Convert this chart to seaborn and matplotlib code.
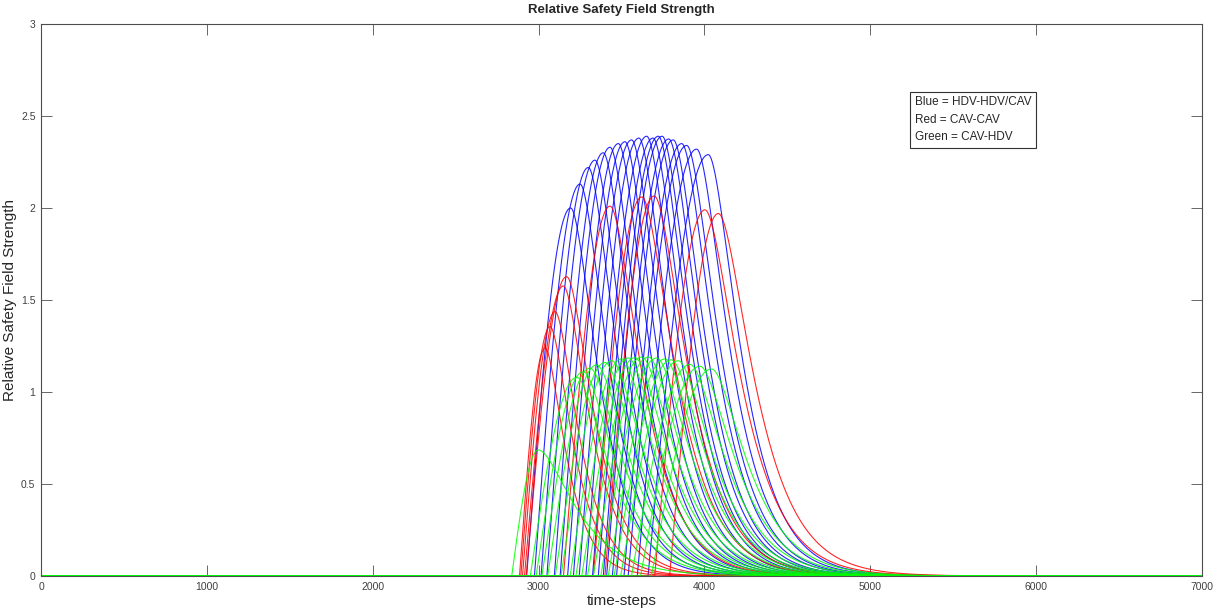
import numpy as np
import pandas as pd
import matplotlib
matplotlib.use("Agg")
import matplotlib.pyplot as plt
import seaborn as sns

# ------------------------------
# Curve parameters (time-steps / strength)
# ------------------------------
blue_peak = [3193, 3250, 3300, 3340, 3390, 3431, 3481, 3521, 3561, 3605,
             3652, 3690, 3722, 3745, 3785, 3812, 3863, 3893, 3953, 4023]
blue_height = [2.00, 2.13, 2.22, 2.26, 2.30, 2.33, 2.35, 2.36, 2.37, 2.38,
               2.39, 2.38, 2.39, 2.39, 2.375, 2.37, 2.35, 2.34, 2.32, 2.29]
blue_onset = [2928, 2975, 3015, 3050, 3095, 3130, 3175, 3210, 3245, 3285,
              3325, 3360, 3390, 3410, 3445, 3470, 3515, 3540, 3595, 3660]
blue_fall = [150, 152, 154, 156, 158, 160, 161, 162, 163, 164,
             165, 166, 167, 168, 169, 170, 171, 172, 172, 170]

red_peak = [3039, 3069, 3099, 3149, 3169, 3431, 3622, 3697, 4003, 4084]
red_height = [1.24, 1.355, 1.437, 1.576, 1.627, 2.01, 2.06, 2.065, 1.99, 1.97]
red_onset = [2885, 2893, 2903, 2915, 2925, 3150, 3330, 3400, 3700, 3790]
red_fall = [110, 120, 125, 140, 145, 170, 180, 180, 188, 190]

green_peak = [2998, 3230, 3270, 3310, 3350, 3400, 3441, 3501, 3541, 3581,
              3622, 3662, 3712, 3762, 3800, 3842, 3913, 3973, 4043]
green_height = [0.685, 1.08, 1.11, 1.13, 1.147, 1.16, 1.17, 1.18, 1.185, 1.187,
                1.19, 1.19, 1.185, 1.18, 1.175, 1.17, 1.15, 1.14, 1.125]
green_onset = [2838, 2950, 2985, 3020, 3055, 3100, 3135, 3190, 3225, 3260,
               3295, 3330, 3375, 3420, 3455, 3495, 3560, 3615, 3680]
green_fall = [200, 175, 175, 178, 180, 180, 182, 183, 184, 185,
              186, 187, 188, 188, 189, 190, 190, 191, 192]

x_ticks = [0, 1000, 2000, 3000, 4000, 5000, 6000, 7000]
y_ticks = [0, 0.5, 1, 1.5, 2, 2.5, 3]
y_tick_labels = ["0", "0.5", "1", "1.5", "2", "2.5", "3"]

legend_text = "Blue = HDV-HDV/CAV\nRed = CAV-CAV\nGreen = CAV-HDV"


# ------------------------------
# Build the curves
# ------------------------------
t = np.arange(0, 7001, 2)


def field_curve(t0, tp, h, s):
    y = np.zeros_like(t, dtype=float)
    up = (t >= t0) & (t <= tp)
    y[up] = h * np.sin(np.pi / 2 * (t[up] - t0) / (tp - t0))
    down = t > tp
    x = (t[down] - tp) / s
    y[down] = h * np.exp(-x ** 2 / (1 + x))
    return y


frames = []
groups = [
    ("blue", blue_onset, blue_peak, blue_height, blue_fall),
    ("red", red_onset, red_peak, red_height, red_fall),
    ("green", green_onset, green_peak, green_height, green_fall),
]
for name, onsets, peaks, heights, falls in groups:
    for i in range(len(peaks)):
        frames.append(pd.DataFrame({
            "t": t,
            "v": field_curve(onsets[i], peaks[i], heights[i], falls[i]),
            "group": name,
            "curve": f"{name}{i}",
        }))
df = pd.concat(frames, ignore_index=True)


# ------------------------------
# Plot
# ------------------------------
sns.set_theme(style="white")
plt.rcParams["font.family"] = ["Liberation Sans", "DejaVu Sans"]

fig = plt.figure(figsize=(12.17, 6.12), dpi=100)
ax = fig.add_axes([0.0337, 0.0588, 0.9540, 0.9020])

sns.lineplot(
    data=df, x="t", y="v", hue="group", units="curve", estimator=None,
    palette={"blue": "#0000ff", "red": "#ff0000", "green": "#00ff00"},
    hue_order=["blue", "red", "green"],
    linewidth=0.8, alpha=0.85, legend=False, ax=ax, sort=False,
)

ax.set_xlim(0, 7000)
ax.set_ylim(0, 3)
ax.set_xticks(x_ticks)
ax.set_xticklabels([str(v) for v in x_ticks])
ax.set_yticks(y_ticks)
ax.set_yticklabels(y_tick_labels)

ax.tick_params(direction="in", length=8, width=0.6, color="#4d4d4d",
               labelsize=7.5, labelcolor="#404040",
               bottom=True, left=True, top=True, right=True, pad=4)
for sp in ax.spines.values():
    sp.set_color("#4d4d4d")
    sp.set_linewidth(0.8)

ax.set_title("Relative Safety Field Strength", fontsize=9.5,
             fontweight="bold", y=1.005)
ax.set_xlabel("time-steps", fontsize=11)
ax.set_ylabel("Relative Safety Field Strength", fontsize=11)
ax.xaxis.set_label_coords(0.5, -0.033)
ax.yaxis.set_label_coords(-0.021, 0.5)

ax.text(0.7525, 0.869, legend_text, transform=ax.transAxes,
        fontsize=8.5, va="top", ha="left", linespacing=1.6,
        bbox=dict(boxstyle="square,pad=0.4", facecolor="white",
                  edgecolor="#333333", linewidth=0.8))

fig.savefig("out.png", dpi=100)
